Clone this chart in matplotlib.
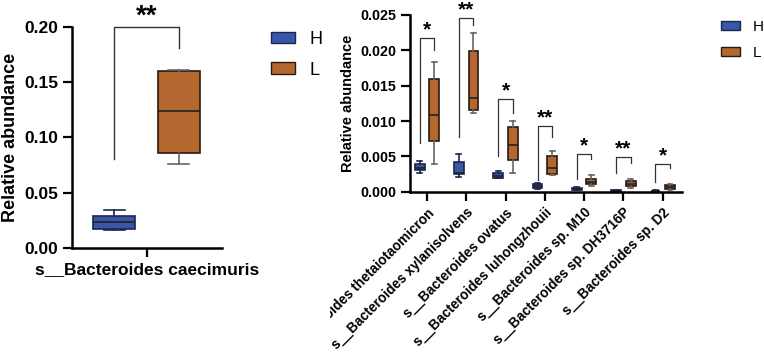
import matplotlib.pyplot as plt
from matplotlib.patches import Patch
from matplotlib.transforms import Bbox, TransformedBbox

plt.rcParams['font.family'] = ['Liberation Sans', 'DejaVu Sans']
plt.rcParams['font.weight'] = 'bold'
plt.rcParams['axes.labelweight'] = 'bold'

H_COLOR = '#3a56a6'
L_COLOR = '#b4672e'

# box stats: whislo, q1, med, q3, whishi
left_label = 's__Bacteroides caecimuris'
left_H = [0.0165, 0.0172, 0.0232, 0.0286, 0.0346]
left_L = [0.0761, 0.0857, 0.124, 0.160, 0.161]
left_sig = '**'
left_bracket = [0.080, 0.200, 0.181]

species = ['s__Bacteroides thetaiotaomicron', 's__Bacteroides xylanisolvens',
           's__Bacteroides ovatus', 's__Bacteroides luhongzhouii',
           's__Bacteroides sp. M10', 's__Bacteroides sp. DH3716P',
           's__Bacteroides sp. D2']
H_stats = [[0.0027, 0.0030, 0.0034, 0.0039, 0.0043],
           [0.0021, 0.0025, 0.0027, 0.0042, 0.0053],
           [0.0019, 0.0020, 0.0022, 0.0026, 0.0029],
           [0.0004, 0.0005, 0.0008, 0.00105, 0.0013],
           [0.0002, 0.00024, 0.0004, 0.00057, 0.0007],
           [0.00005, 0.0001, 0.00015, 0.00025, 0.0003],
           [0.00002, 0.00005, 0.0001, 0.00015, 0.0002]]
L_stats = [[0.0039, 0.0072, 0.0109, 0.0160, 0.0184],
           [0.0111, 0.0115, 0.0132, 0.0199, 0.0225],
           [0.0027, 0.0045, 0.0066, 0.0092, 0.0100],
           [0.0024, 0.0025, 0.0033, 0.0051, 0.0058],
           [0.00085, 0.00105, 0.0014, 0.0018, 0.0023],
           [0.00048, 0.00076, 0.0011, 0.0015, 0.0018],
           [0.0003, 0.00038, 0.0006, 0.0009, 0.0011]]
sig = ['*', '**', '*', '**', '*', '**', '*']
# bracket: left foot, top, right foot
brackets = [[0.0069, 0.0217, 0.0201],
            [0.0078, 0.0246, 0.0236],
            [0.0051, 0.0131, 0.0112],
            [0.00165, 0.0093, 0.0077],
            [0.00175, 0.0053, 0.0046],
            [0.0027, 0.0049, 0.0040],
            [0.0014, 0.0039, 0.0033]]


def to_dict(s):
    return dict(whislo=s[0], q1=s[1], med=s[2], q3=s[3], whishi=s[4], fliers=[])


def draw_boxes(ax, stats, pos, width, color, edge, whisk):
    return ax.bxp([to_dict(s) for s in stats], positions=pos, widths=width,
                  patch_artist=True, showfliers=False,
                  boxprops=dict(facecolor=color, edgecolor=edge, linewidth=1.2),
                  medianprops=dict(color='#222222', linewidth=1.2),
                  whiskerprops=dict(color=whisk, linewidth=1.2),
                  capprops=dict(color=whisk, linewidth=1.2),
                  capwidths=width * 0.5)


def style_axis(ax, size):
    for s in ['top', 'right']:
        ax.spines[s].set_visible(False)
    for s in ['left', 'bottom']:
        ax.spines[s].set_linewidth(1.8)
    ax.tick_params(width=1.6, length=6.5, labelsize=size)


fig = plt.figure(figsize=(7.64, 3.62), dpi=100)

# left panel
ax1 = fig.add_axes([72 / 764, 1 - 248 / 362, 150 / 764, (248 - 26.7) / 362])
draw_boxes(ax1, [left_H], [-0.44], 0.56, H_COLOR, '#1b2550', '#1b2550')
draw_boxes(ax1, [left_L], [0.42], 0.56, L_COLOR, '#2a1a10', '#666666')
ax1.plot([-0.44, -0.44, 0.42, 0.42],
         [left_bracket[0], left_bracket[1], left_bracket[1], left_bracket[2]],
         color='#333333', lw=1.0, clip_on=False)
ax1.annotate(left_sig, (-0.01, left_bracket[1]), xytext=(0, 2), textcoords='offset points',
             ha='center', va='baseline', fontsize=20, clip_on=False)
ax1.set_xlim(-1, 1)
ax1.set_ylim(0, 0.20)
ax1.set_yticks([0, 0.05, 0.10, 0.15, 0.20])
ax1.set_yticklabels(['0.00', '0.05', '0.10', '0.15', '0.20'])
ax1.set_xticks([0])
ax1.set_xticklabels([left_label])
style_axis(ax1, 12.5)
ax1.set_ylabel('Relative abundance', fontsize=13, labelpad=4)

# right panel
ax2 = fig.add_axes([410 / 764, 1 - 191.7 / 362, 272 / 764, (191.7 - 15) / 362])
n = len(species)
xs = list(range(n))
off = 0.185
draw_boxes(ax2, H_stats, [x - off for x in xs], 0.25, H_COLOR, '#1b2550', '#1b2550')
draw_boxes(ax2, L_stats, [x + off for x in xs], 0.25, L_COLOR, '#2a1a10', '#666666')
for x, b, s in zip(xs, brackets, sig):
    ax2.plot([x - off, x - off, x + off, x + off], [b[0], b[1], b[1], b[2]],
             color='#333333', lw=0.9, clip_on=False)
    ax2.annotate(s, (x, b[1]), xytext=(0, 2), textcoords='offset points',
                 ha='center', va='baseline', fontsize=15, clip_on=False)
ax2.set_xlim(-0.43, 6.49)
ax2.set_ylim(0, 0.025)
ax2.set_yticks([0, 0.005, 0.010, 0.015, 0.020, 0.025])
ax2.set_yticklabels(['0.000', '0.005', '0.010', '0.015', '0.020', '0.025'])
ax2.set_xticks(xs)
ax2.set_xticklabels(species, rotation=45, ha='right', rotation_mode='anchor')
style_axis(ax2, 10.3)
ax2.tick_params(axis='x', labelsize=9.8)
ax2.set_ylabel('Relative abundance', fontsize=10.5, labelpad=4)

# the reference crops the long labels where the left panel ends
clip = TransformedBbox(Bbox([[330 / 764, 0], [1, 1]]), fig.transFigure)
for lab in ax2.get_xticklabels():
    lab.set_clip_box(clip)
    lab.set_clip_on(True)

handles = [Patch(facecolor=H_COLOR, edgecolor='#1b2550'),
           Patch(facecolor=L_COLOR, edgecolor='#2a1a10')]
fig.legend(handles, ['H', 'L'], loc='upper left', bbox_to_anchor=(271 / 764, 1 - 31 / 362),
           frameon=False, prop={'weight': 'normal', 'size': 13}, handlelength=1.35,
           handleheight=0.6, labelspacing=0.75, handletextpad=0.8, borderaxespad=0, borderpad=0)
fig.legend(handles, ['H', 'L'], loc='upper left', bbox_to_anchor=(721 / 764, 1 - 20 / 362),
           frameon=False, prop={'weight': 'normal', 'size': 11}, handlelength=1.25,
           handleheight=0.5, labelspacing=0.8, handletextpad=0.8, borderaxespad=0, borderpad=0)

fig.savefig('out.png', dpi=100)
